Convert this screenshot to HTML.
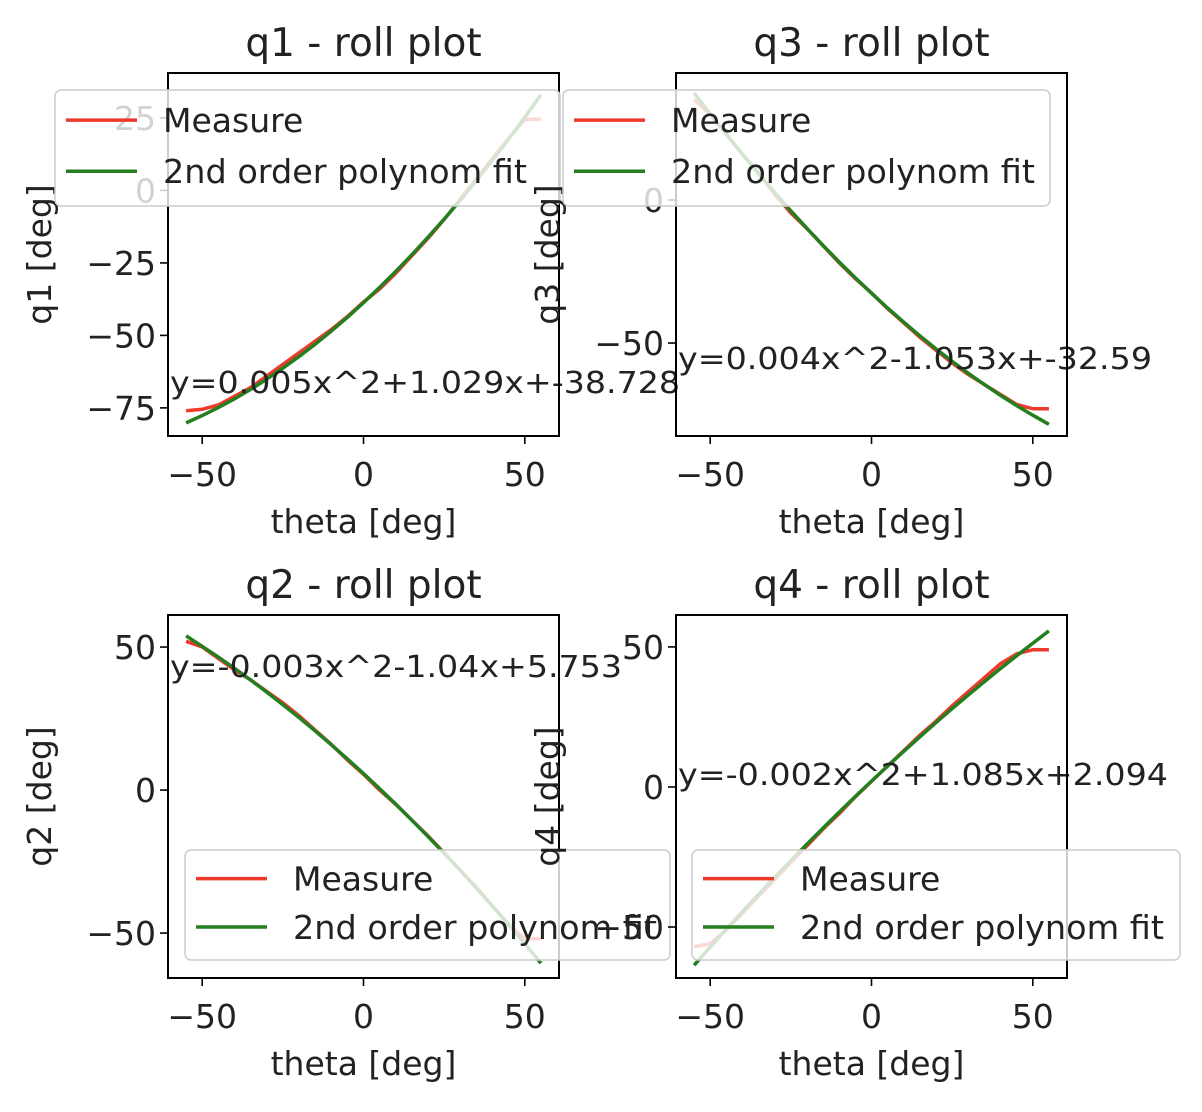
<!DOCTYPE html>
<html><head><meta charset="utf-8"><style>
html,body{margin:0;padding:0;background:#fff;}
svg{display:block;font-family:"DejaVu Sans","Liberation Sans",sans-serif;}
</style></head><body>
<svg id="fig" width="1202" height="1112" viewBox="0 0 1202 1112"></svg>
<script>
const theta = [-55,-50,-45,-40,-35,-30,-25,-20,-15,-10,-5,0,5,10,15,20,25,30,35,40,45,50,55];
const measureQ1 = [-76,-75.5,-74,-71,-68,-64,-60,-56,-52,-48,-43.5,-38.5,-34,-28.5,-22.5,-16.5,-10,-3,4,11,18,24.5,24.5];
const measureQ3 = [35,30,23,16,9.5,2,-4.5,-10,-16,-22,-27.5,-32.5,-38,-43,-48,-52.5,-57,-61,-64.5,-68,-71.5,-73,-73];
const measureQ2 = [52,50,46,42,38.5,34.5,30.5,26,21,16,10.5,5.5,0,-5,-10.5,-16,-22,-28,-34,-40.5,-47,-52,-52];
const measureQ4 = [-57,-56,-51,-45,-39,-33,-27,-21,-15,-9.5,-3.5,2,7.5,13,18.5,23.5,29,34,39,44,47.5,49,49];
const coefQ1 = [0.005,1.029,-38.728];
const coefQ3 = [0.004,-1.053,-32.59];
const coefQ2 = [-0.003,-1.04,5.753];
const coefQ4 = [-0.002,1.085,2.094];
const xTicks = [-50,0,50];
const yTicksQ1 = [25,0,-25,-50,-75];
const yTicksQ3 = [0,-50];
const yTicksQ2 = [50,0,-50];
const yTicksQ4 = [50,0,-50];

const NS='http://www.w3.org/2000/svg';
const svg=document.getElementById('fig');
function mk(tag,attrs,parent,txt){const e=document.createElementNS(NS,tag);for(const k in attrs)e.setAttribute(k,attrs[k]);if(txt!==undefined)e.textContent=txt;(parent||svg).appendChild(e);return e;}
function fmt(v){return v<0?'\u2212'+Math.abs(v):String(v);}

const FS=33;
const panels=[
 {id:'q1',x0:168,y0:73,ylim:[-84.7,40.5],meas:measureQ1,coef:coefQ1,yt:yTicksQ1,
  ann:{x:170,y:393,t:'y=0.005x^2+1.029x+-38.728',w:510},
  leg:{x:55,y:90,w:505,h:116}},
 {id:'q3',x0:676,y0:73,ylim:[-82.5,44.4],meas:measureQ3,coef:coefQ3,yt:yTicksQ3,
  ann:{x:678,y:369,t:'y=0.004x^2-1.053x+-32.59',w:474},
  leg:{x:563,y:90,w:487,h:116}},
 {id:'q2',x0:168,y0:615,ylim:[-65.7,61.2],meas:measureQ2,coef:coefQ2,yt:yTicksQ2,
  ann:{x:170,y:677,t:'y=-0.003x^2-1.04x+5.753',w:452},
  leg:{x:185,y:850,w:485,h:110}},
 {id:'q4',x0:676,y0:615,ylim:[-68.2,61.4],meas:measureQ4,coef:coefQ4,yt:yTicksQ4,
  ann:{x:678,y:785,t:'y=-0.002x^2+1.085x+2.094',w:490},
  leg:{x:692,y:850,w:488,h:110}}
];
const W=391,H=363,XL=[-60.6,60.6];

panels.forEach(p=>{
  const g=mk('g',{});
  
  
  const sx=v=>p.x0+(v-XL[0])/(XL[1]-XL[0])*W;
  const sy=v=>p.y0+(p.ylim[1]-v)/(p.ylim[1]-p.ylim[0])*H;
  const cid='clip-'+p.id;
  const cp=mk('clipPath',{id:cid},g);mk('rect',{x:p.x0,y:p.y0,width:W,height:H},cp);
  const mPts=theta.map((t,i)=>sx(t).toFixed(1)+','+sy(p.meas[i]).toFixed(1)).join(' ');
  const ml=mk('polyline',{points:mPts,fill:'none',stroke:'#ee3a2c','stroke-width':3.5,'clip-path':'url(#'+cid+')'},g);
  
  
  const fPts=theta.map(t=>sx(t).toFixed(1)+','+sy(p.coef[0]*t*t+p.coef[1]*t+p.coef[2]).toFixed(1)).join(' ');
  const fl=mk('polyline',{points:fPts,fill:'none',stroke:'#237f1f','stroke-width':3.5,'clip-path':'url(#'+cid+')'},g);
  
  
  const an=mk('text',{x:p.ann.x,y:p.ann.y,'font-size':30,fill:'#222',textLength:p.ann.w,lengthAdjust:'spacingAndGlyphs'},g,p.ann.t);
  
  
  const fr=mk('rect',{x:p.x0,y:p.y0,width:W,height:H,fill:'none',stroke:'#000','stroke-width':2},g);
  
  
  xTicks.forEach(t=>{
    const x=sx(t);
    mk('line',{x1:x,x2:x,y1:p.y0+H,y2:p.y0+H+8,stroke:'#000','stroke-width':1.6},g);
    const tl=mk('text',{x:x,y:p.y0+H+50,'font-size':FS,'text-anchor':'middle',fill:'#222'},g,fmt(t));
    
    
  });
  p.yt.forEach(t=>{
    const y=sy(t);
    mk('line',{x1:p.x0-8,x2:p.x0,y1:y,y2:y,stroke:'#000','stroke-width':1.6},g);
    const tl=mk('text',{x:p.x0-12,y:y+12,'font-size':FS,'text-anchor':'end',fill:'#222'},g,fmt(t));
    
    
  });
  const xl=mk('text',{x:p.x0+W/2,y:p.y0+H+97,'font-size':FS,'text-anchor':'middle',fill:'#222'},g,'theta [deg]');
  
  
  const yx=p.x0-117, yy=p.y0+H/2;
  const yl=mk('text',{x:yx,y:yy,'font-size':FS,'text-anchor':'middle',fill:'#222',transform:'rotate(-90 '+yx+' '+yy+')'},g,p.id+' [deg]');
  
  
  const ti=mk('text',{x:p.x0+W/2,y:p.y0-17,'font-size':39,'text-anchor':'middle',fill:'#222'},g,p.id+' - roll plot');
  
  
  const lg=mk('g',{},g);
  
  
  const L=p.leg;
  mk('rect',{x:L.x,y:L.y,width:L.w,height:L.h,rx:6,fill:'#fff','fill-opacity':0.8,stroke:'#ccc','stroke-width':1.5},lg);
  const r1=L.y+L.h*0.26, r2=L.y+L.h*0.7;
  mk('line',{x1:L.x+11,x2:L.x+82,y1:r1,y2:r1,stroke:'#ee3a2c','stroke-width':3.5},lg);
  mk('line',{x1:L.x+11,x2:L.x+82,y1:r2,y2:r2,stroke:'#237f1f','stroke-width':3.5},lg);
  const e1=mk('text',{x:L.x+108,y:r1+12,'font-size':FS,fill:'#222'},lg,'Measure');
  
  
  const e2=mk('text',{x:L.x+108,y:r2+12,'font-size':FS,fill:'#222',textLength:364,lengthAdjust:'spacingAndGlyphs'},lg,'2nd order polynom fit');
  
  
});
</script>
</body></html>
